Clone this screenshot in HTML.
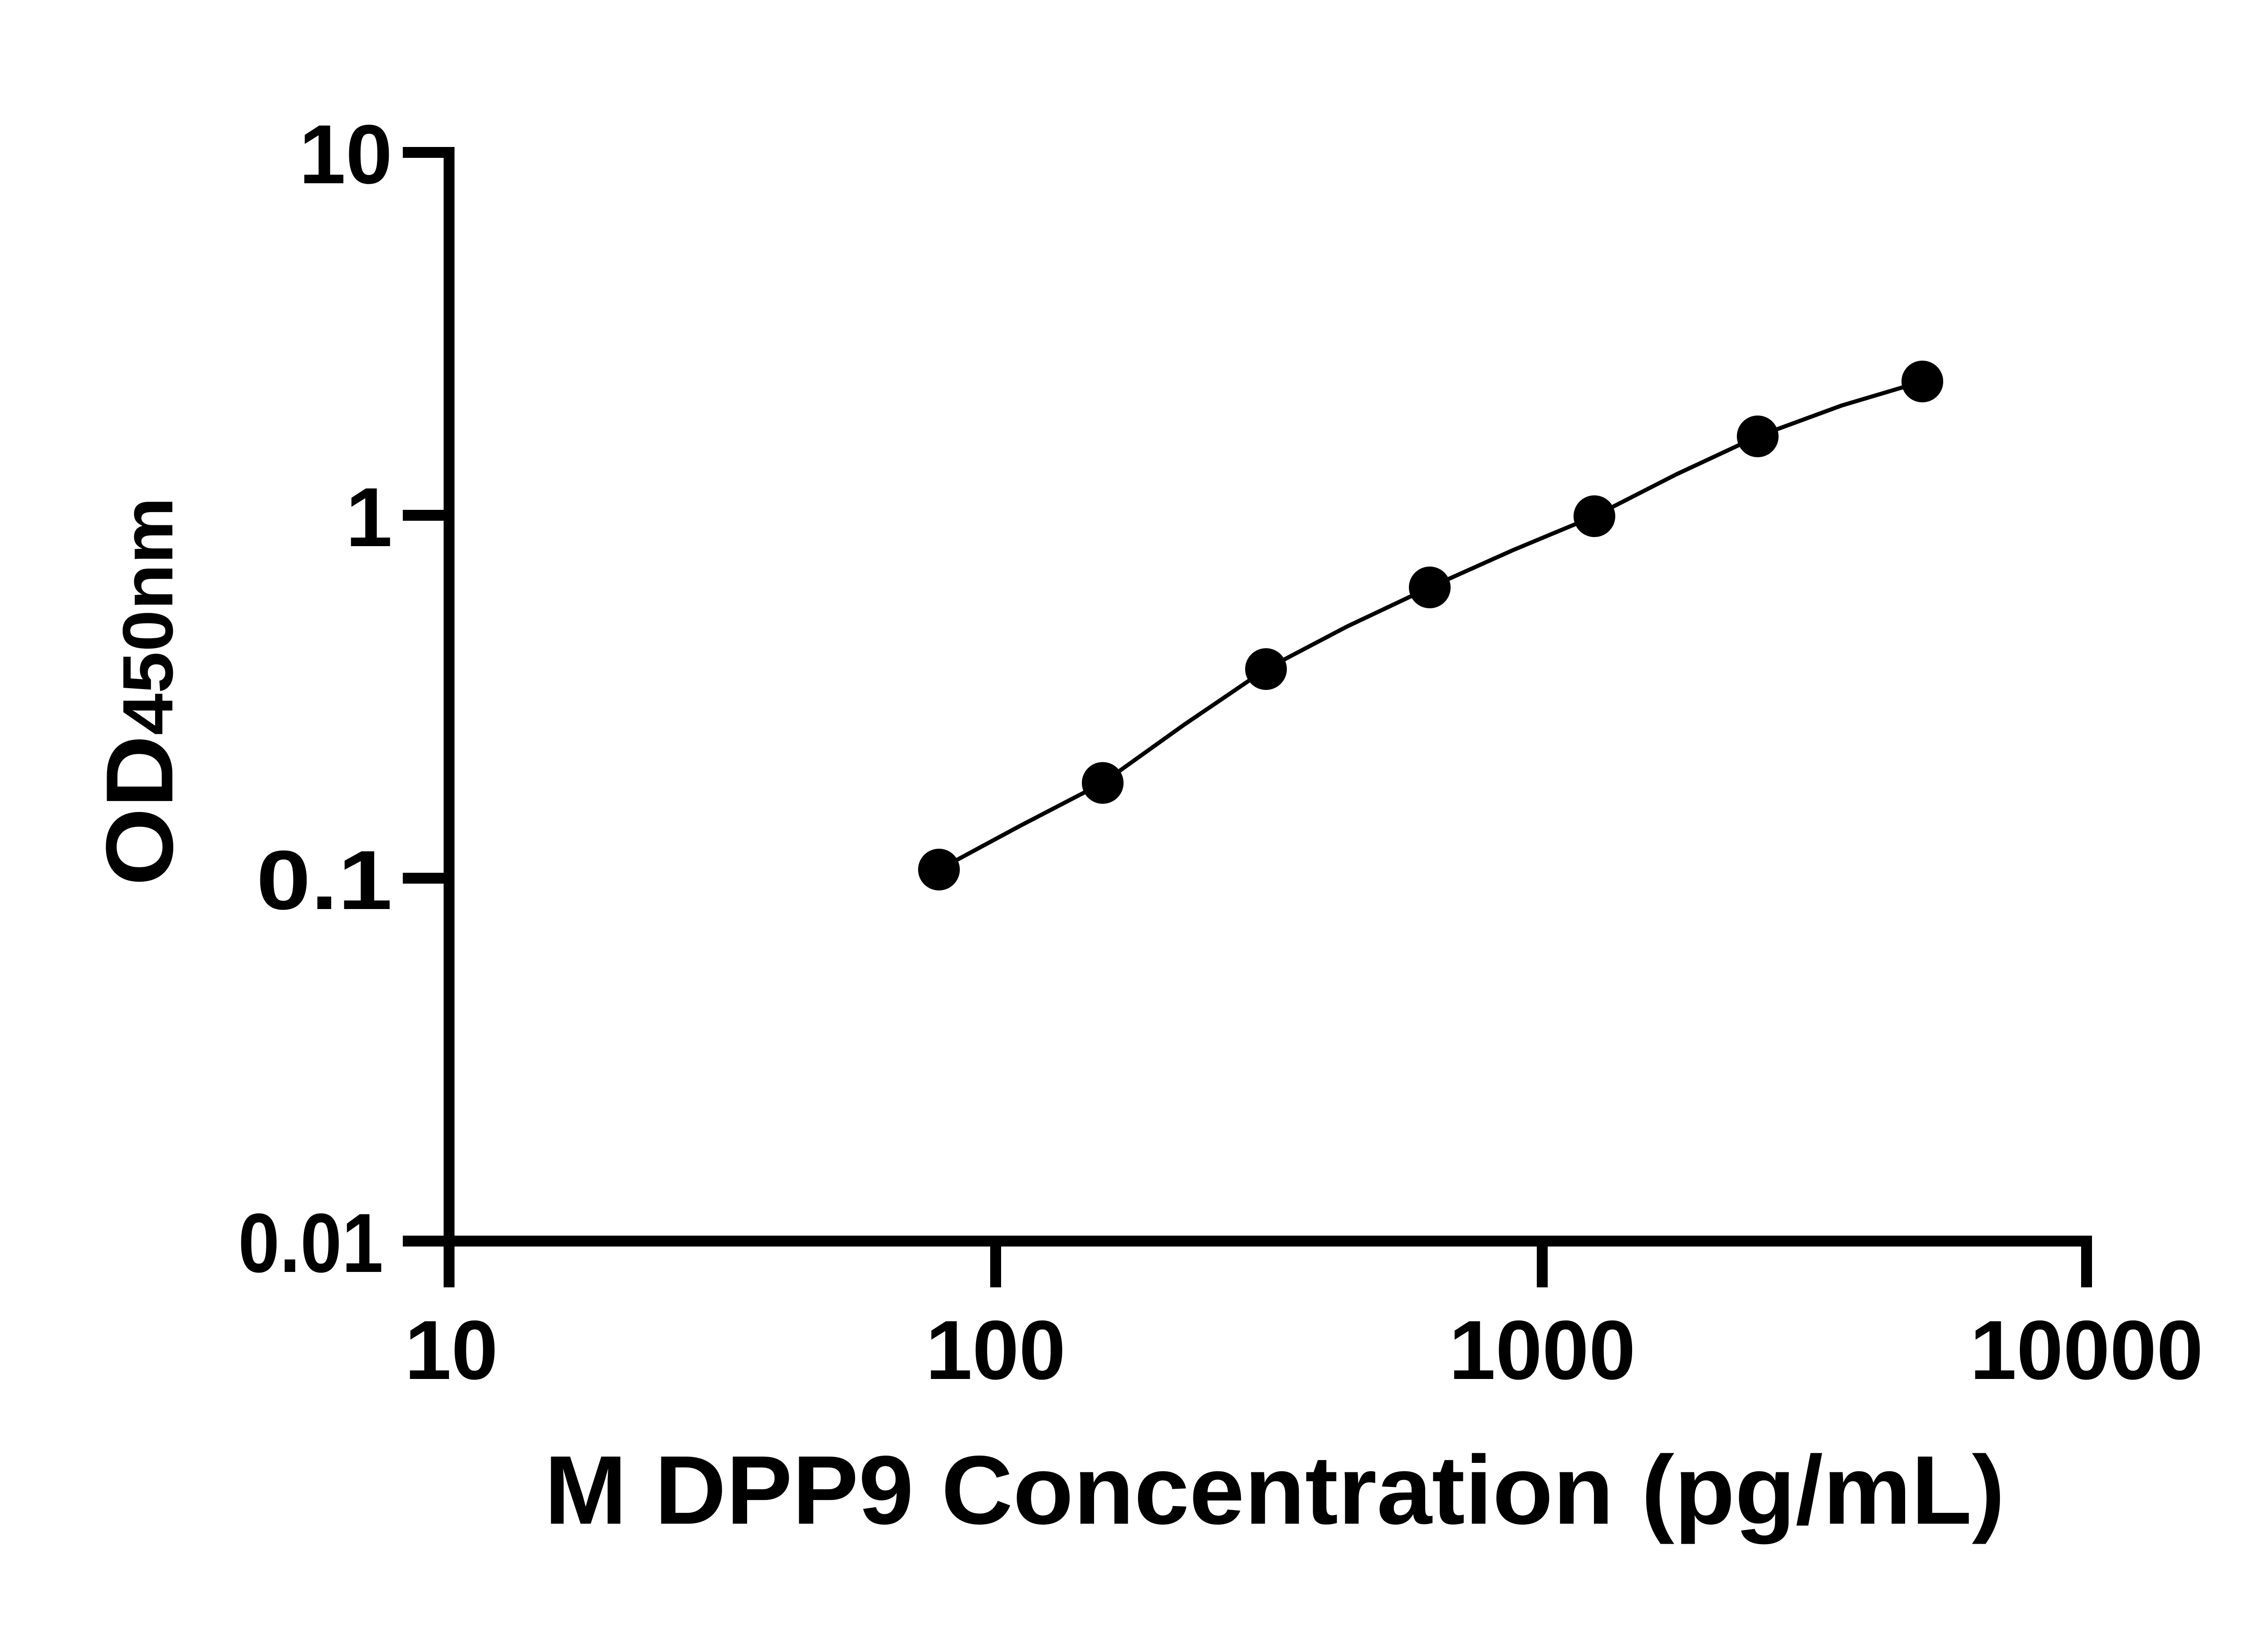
<!DOCTYPE html>
<html><head><meta charset="utf-8"><style>html,body{margin:0;padding:0;background:#fff}svg{display:block}</style></head>
<body>
<svg width="5142" height="3600" viewBox="0 0 5142 3600" xmlns="http://www.w3.org/2000/svg" font-family="'Liberation Sans', sans-serif" font-weight="bold">
<rect width="5142" height="3600" fill="#fff"/>
<g stroke="#000" stroke-width="24" fill="none" stroke-linecap="butt">
<line x1="990" y1="324" x2="990" y2="2748"/>
<line x1="978" y1="2736" x2="4612" y2="2736"/>
<line x1="888" y1="336" x2="990" y2="336"/>
<line x1="888" y1="1136" x2="990" y2="1136"/>
<line x1="888" y1="1936" x2="990" y2="1936"/>
<line x1="888" y1="2736" x2="990" y2="2736"/>
<line x1="990" y1="2736" x2="990" y2="2838"/>
<line x1="2195" y1="2736" x2="2195" y2="2838"/>
<line x1="3400" y1="2736" x2="3400" y2="2838"/>
<line x1="4600" y1="2736" x2="4600" y2="2838"/>
</g>
<g font-size="185" text-anchor="end" fill="#000">
<text x="865" y="404">10</text>
<text x="865" y="1204">1</text>
<text x="865" y="2004" textLength="300" lengthAdjust="spacingAndGlyphs">0.1</text>
<text x="845" y="2804" textLength="320" lengthAdjust="spacingAndGlyphs">0.01</text>
</g>
<g font-size="185" text-anchor="middle" fill="#000">
<text x="995" y="3040">10</text>
<text x="2195" y="3040">100</text>
<text x="3400" y="3040">1000</text>
<text x="4600" y="3040">10000</text>
</g>
<text x="1200" y="3359" font-size="215" textLength="3220" lengthAdjust="spacingAndGlyphs" fill="#000">M DPP9 Concentration (pg/mL)</text>
<text transform="translate(380,1953) rotate(-90)" fill="#000" textLength="857" lengthAdjust="spacingAndGlyphs"><tspan font-size="210">OD</tspan><tspan font-size="157">450nm</tspan></text>
<polyline fill="none" stroke="#000" stroke-width="9" stroke-linejoin="round" points="2070,1917 2250,1820 2431,1726 2610,1598 2791,1475 2970,1381 3152,1295 3335,1213 3515,1138 3695,1046 3875,962 4060,894 4238,841"/>
<g fill="#000">
<circle cx="2070" cy="1917" r="46"/>
<circle cx="2431" cy="1726" r="46"/>
<circle cx="2791" cy="1475" r="46"/>
<circle cx="3152" cy="1295" r="46"/>
<circle cx="3515" cy="1138" r="46"/>
<circle cx="3875" cy="962" r="46"/>
<circle cx="4238" cy="841" r="46"/>
</g>
</svg>
</body></html>
